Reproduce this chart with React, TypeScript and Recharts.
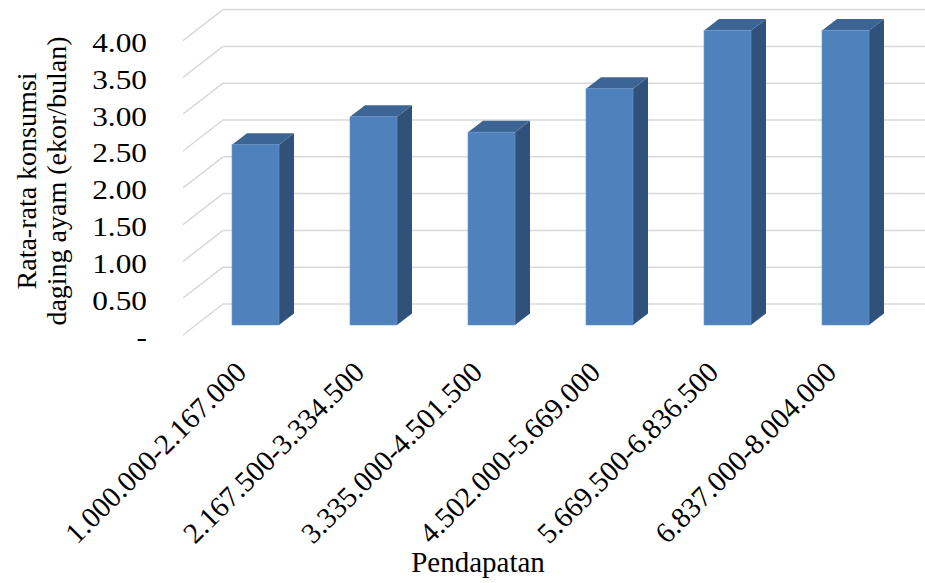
import { BarChart, Bar, XAxis, YAxis, CartesianGrid } from 'recharts'

const categories = [
	'1.000.000-2.167.000',
	'2.167.500-3.334.500',
	'3.335.000-4.501.500',
	'4.502.000-5.669.000',
	'5.669.500-6.836.500',
	'6.837.000-8.004.000',
]
const consumption = [2.45, 2.83, 2.62, 3.21, 4.0, 4.0]
const yTicks = [0, 0.5, 1, 1.5, 2, 2.5, 3, 3.5, 4]
const yTickLabels = ['-', '0.50', '1.00', '1.50', '2.00', '2.50', '3.00', '3.50', '4.00']

const data = categories.map((name, i) => ({ name, value: consumption[i] }))

const FONT = '"Liberation Serif", "Times New Roman", serif'
const GRID = '#d9d9d9'
// oblique offsets of the fake 3d view
const FLOOR_DX = 40
const FLOOR_DY = 31
const BAR_DX = 27
const BAR_DY = 21
const DEPTH_X = 15
const DEPTH_Y = 11.5

const Box3D = (props: any) => {
	const { x, y, width, height } = props
	if (height == null || height <= 0) return null
	const fx = x - BAR_DX
	const fy = y + BAR_DY
	const w = width
	const h = height
	return (
		<g>
			<polygon
				points={`${fx + w},${fy} ${fx + w + DEPTH_X},${fy - DEPTH_Y} ${fx + w + DEPTH_X},${fy + h - DEPTH_Y} ${fx + w},${fy + h}`}
				fill="#30527a"
			/>
			<polygon
				points={`${fx},${fy} ${fx + w},${fy} ${fx + w + DEPTH_X},${fy - DEPTH_Y} ${fx + DEPTH_X},${fy - DEPTH_Y}`}
				fill="#3c6494"
			/>
			<rect x={fx} y={fy} width={w} height={h} fill="#4f81bd" stroke="#6b96cb" strokeWidth={0.6} />
		</g>
	)
}

const YTick = (props: any) => {
	const { y, payload } = props
	const idx = yTicks.indexOf(payload.value)
	return (
		<g>
			<line x1={223 - FLOOR_DX} y1={y + FLOOR_DY} x2={223} y2={y} stroke={GRID} strokeWidth={1.5} />
			<g transform={`translate(147 ${y + 33}) scale(1.12 1)`}>
				<text x={0} y={0} textAnchor="end" dominantBaseline="central" fontFamily={FONT} fontSize={28} fill="#000">
					{yTickLabels[idx]}
				</text>
			</g>
		</g>
	)
}

const XTick = (props: any) => {
	const { x, payload } = props
	const tx = x - 34
	const ty = 374
	return (
		<text
			x={tx}
			y={ty}
			textAnchor="end"
			transform={`rotate(-45 ${tx} ${ty})`}
			fontFamily={FONT}
			fontSize={29}
			fill="#000"
		>
			{payload.value}
		</text>
	)
}

export default function App() {
	return (
		<div style={{ position: 'absolute', left: 0, top: 0, width: 925, height: 583, overflow: 'hidden', background: '#fff' }}>
			<BarChart width={931} height={583} data={data} margin={{ top: 9.6, right: 0, bottom: 0, left: 0 }} barSize={47}>
				<CartesianGrid horizontal vertical={false} stroke={GRID} strokeWidth={1.5} />
				<YAxis
					domain={[0, 4]}
					ticks={yTicks}
					width={223}
					axisLine={false}
					tickLine={false}
					tick={YTick}
					label={() => (
						<g>
							<text
								transform="translate(36 181) rotate(-90)"
								textAnchor="middle"
								fontFamily={FONT}
								fontSize={28}
								fill="#000"
							>
								Rata-rata konsumsi
							</text>
							<text
								transform="translate(66 181) rotate(-90)"
								textAnchor="middle"
								fontFamily={FONT}
								fontSize={28}
								fill="#000"
							>
								daging ayam (ekor/bulan)
							</text>
						</g>
					)}
				/>
				<XAxis
					dataKey="name"
					height={279}
					axisLine={false}
					tickLine={false}
					interval={0}
					tick={XTick}
					label={() => (
						<text x={478} y={572} textAnchor="middle" fontFamily={FONT} fontSize={29} fill="#000">
							Pendapatan
						</text>
					)}
				/>
				<Bar dataKey="value" shape={Box3D} isAnimationActive={false} />
			</BarChart>
		</div>
	)
}
